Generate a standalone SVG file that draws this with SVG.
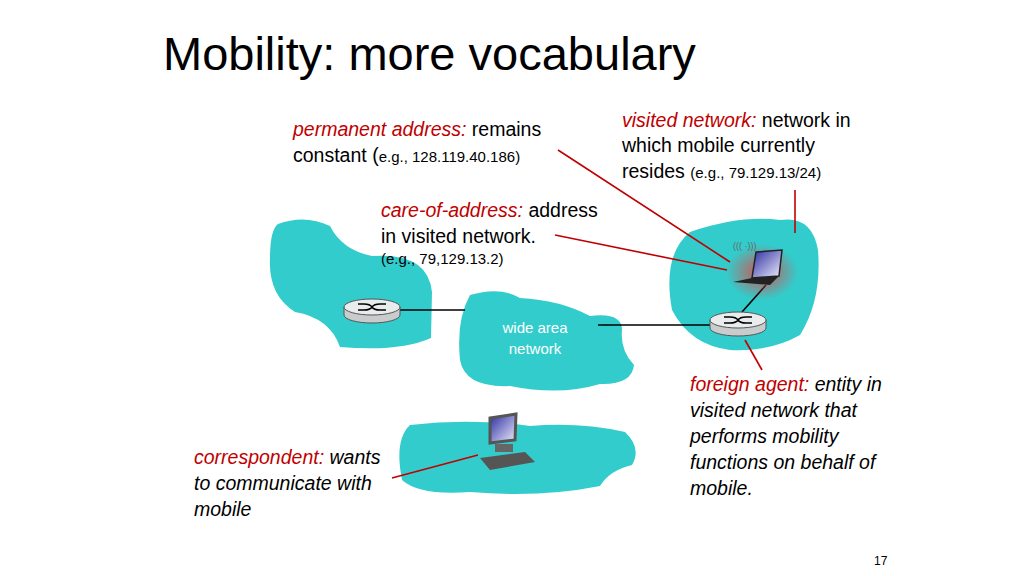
<svg xmlns="http://www.w3.org/2000/svg" width="1024" height="576" viewBox="0 0 1024 576">
<style>
text{font-family:"Liberation Sans",Arial,sans-serif;}
.t{font-size:19.5px;fill:#000}
.r{fill:#c00000}
.i{font-style:italic}
.s{font-size:15px}
.cloud{fill:#33cccc}
.red{stroke:#c00000;stroke-width:1.6;fill:none}
.blk{stroke:#000;stroke-width:1.6;fill:none}
</style>
<defs>
<radialGradient id="glow"><stop offset="0" stop-color="#ff3030" stop-opacity="0.8"/><stop offset="1" stop-color="#ff3030" stop-opacity="0"/></radialGradient>
<linearGradient id="scr" x1="0" y1="0" x2="1" y2="1"><stop offset="0" stop-color="#2a2aa0"/><stop offset="1" stop-color="#f0f0ff"/></linearGradient>
<g id="router"><path d="M-28,0 v8 a28,8 0 0 0 56,0 v-8" fill="#c8cccc" stroke="#555"/><ellipse cx="0" cy="0" rx="28" ry="8" fill="#e8ecec" stroke="#555"/><path d="M-14,-3 h6 q6,0 8,3 q2,3 8,3 h6 M-14,3 h6 q6,0 8,-3 q2,-3 8,-3 h6" stroke="#000" stroke-width="1.6" fill="none"/></g>
</defs>
<rect width="1024" height="576" fill="#fff"/>
<text x="163" y="70" font-size="47" fill="#000">Mobility: more vocabulary</text>
<g id="clouds">
<path class="cloud" d="M278,224 Q305,214 330,226 Q342,250 372,256 Q428,252 432,292 L431,338 Q400,352 340,347 Q330,318 295,312 Q268,295 270,258 Q270,230 278,224 Z"/>
<path class="cloud" d="M470,295 Q500,286 520,298 Q560,300 590,316 Q622,312 622,330 Q620,350 634,365 Q632,385 600,384 Q560,396 510,386 Q465,388 460,360 Q456,320 470,295 Z"/>
<path class="cloud" d="M690,232 Q740,215 780,220 Q812,215 818,250 Q822,300 800,335 Q770,352 730,350 Q690,345 672,310 Q662,255 690,232 Z"/>
<path class="cloud" d="M410,425 Q470,418 530,426 Q580,422 625,432 Q642,448 632,465 Q610,470 600,486 Q540,498 470,492 Q420,496 402,480 Q394,440 410,425 Z"/>
</g>
<g id="connectors">
<line class="blk" x1="400" y1="310" x2="465" y2="310"/>
<line class="blk" x1="598" y1="325" x2="712" y2="325"/>
<line class="blk" x1="742" y1="312" x2="766" y2="285"/>
<line class="red" x1="558" y1="150" x2="730" y2="262"/>
<line class="red" x1="555" y1="235" x2="727" y2="270"/>
<line class="red" x1="795" y1="190" x2="795" y2="233"/>
<line class="red" x1="745" y1="340" x2="762" y2="370"/>
<line class="red" x1="392" y1="478" x2="478" y2="455"/>
</g>
<g id="router1"><use href="#router" x="372" y="307"/></g>
<g id="router2"><use href="#router" x="738" y="320"/></g>
<g id="laptop">
<ellipse cx="762" cy="272" rx="36" ry="28" fill="url(#glow)"/>
<polygon points="756,252 782,250 779,276 752,278" fill="url(#scr)" stroke="#222" stroke-width="1.5"/>
<polygon points="752,278 779,276 770,285 733,282" fill="#222"/>
<text x="733" y="249" font-size="9" fill="#666">((( ·)))</text>
</g>
<g id="desktop">
<polygon points="490,418 516,414 515,440 490,443" fill="url(#scr)" stroke="#555" stroke-width="3"/>
<rect x="495" y="444" width="18" height="8" fill="#666"/>
<polygon points="480,458 525,452 535,462 490,470" fill="#555"/>
</g>
<g id="labels">
<text x="535" y="333" font-size="15" fill="#fff" text-anchor="middle">wide area</text>
<text x="535" y="354" font-size="15" fill="#fff" text-anchor="middle">network</text>
<text class="t" x="293" y="136"><tspan class="r i">permanent address:</tspan> remains</text>
<text class="t" x="293" y="162">constant (<tspan class="s">e.g., 128.119.40.186)</tspan></text>
<text class="t" x="622" y="127"><tspan class="r i">visited network:</tspan> network in</text>
<text class="t" x="622" y="152">which mobile currently</text>
<text class="t" x="622" y="178">resides <tspan class="s">(e.g., 79.129.13/24)</tspan></text>
<text class="t" x="381" y="217"><tspan class="r i">care-of-address:</tspan> address</text>
<text class="t" x="381" y="243">in visited network.</text>
<text class="t s" x="381" y="264">(e.g., 79,129.13.2)</text>
<text class="t i" x="690" y="391"><tspan class="r">foreign agent:</tspan> entity in</text>
<text class="t i" x="690" y="417">visited network that</text>
<text class="t i" x="690" y="443">performs mobility</text>
<text class="t i" x="690" y="469">functions on behalf of</text>
<text class="t i" x="690" y="495">mobile.</text>
<text class="t i" x="194" y="464"><tspan class="r">correspondent:</tspan> wants</text>
<text class="t i" x="194" y="490">to communicate with</text>
<text class="t i" x="194" y="516">mobile</text>
<text x="874" y="565" font-size="12" fill="#000">17</text>
</g>
</svg>
